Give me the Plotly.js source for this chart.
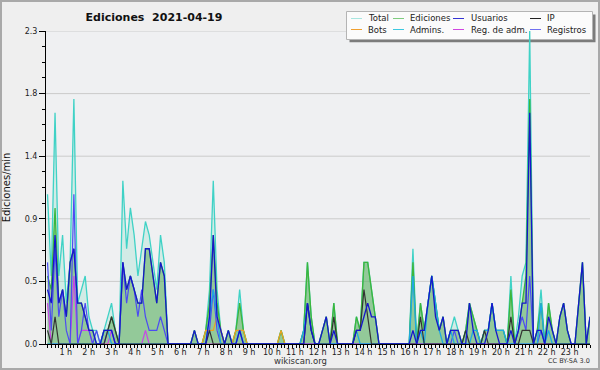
<!DOCTYPE html>
<html>
<head>
<meta charset="utf-8">
<script src="https://cdn.plot.ly/plotly-3.0.1.min.js"></script>
<style>
html,body{margin:0;padding:0;background:#efefef;}
#chart{width:600px;height:370px;}
</style>
</head>
<body>
<div id="chart"></div>
<script>
// ---- data: 10-minute slots of 2021-04-19, values in edits/min ----
const slots = Array.from({length:145}, (_, i) => i);   // slot index (0 = 00:00, 144 = 24:00)

const total = [
 1.1,0.5,1.7,0.5,0.8,0.3,0.6,1.8,0.3,0.4,0.5,0.2,
 0.1,0.1,0,0.1,0.2,0.3,0.1,0,1.2,0.7,1.0,0.8,
 0.5,0.7,0.9,0.8,0.6,0.4,0.8,0.6,0,0,0,0,
 0,0,0,0.1,0,0,0.1,0.4,1.2,0.4,0.1,0,
 0.1,0,0.1,0.4,0.1,0,0,0,0,0,0,0,
 0,0,0.1,0,0,0,0,0,0.1,0.6,0.2,0,
 0,0.1,0.2,0,0.3,0,0,0,0,0,0.2,0.1,
 0.6,0.6,0.4,0.2,0,0,0,0,0,0,0,0,
 0,0.7,0,0.3,0.1,0.3,0.5,0.3,0.1,0.2,0,0.1,
 0.2,0.1,0,0.1,0.3,0.2,0.1,0,0.1,0.1,0.3,0.1,
 0.1,0.1,0,0.5,0,0.2,0.5,0.6,2.3,0,0.1,0.4,
 0,0.3,0.1,0,0.2,0.3,0.1,0,0,0.3,0.6,0,
 0.2];

const ediciones = [
 0.5,0.4,1.0,0.3,0.4,0.2,0.6,0.7,0.3,0.3,0.2,0.1,
 0.1,0,0,0.1,0.1,0.2,0.1,0,0.6,0.4,0.5,0.4,
 0.3,0.3,0.7,0.7,0.5,0.3,0.6,0.5,0,0,0,0,
 0,0,0,0.1,0,0,0.1,0.3,0.8,0.3,0.1,0,
 0.1,0,0.1,0.3,0.1,0,0,0,0,0,0,0,
 0,0,0.1,0,0,0,0,0,0.1,0.6,0.2,0,
 0,0.1,0.2,0,0.3,0,0,0,0,0,0.2,0.1,
 0.6,0.6,0.4,0.2,0,0,0,0,0,0,0,0,
 0,0.6,0,0.3,0.1,0.3,0.5,0.3,0.1,0.2,0,0.1,
 0.1,0.1,0,0.1,0.3,0.2,0.1,0,0.1,0.1,0.3,0.1,
 0.1,0.1,0,0.4,0,0.1,0.3,0.5,1.8,0,0.1,0.3,
 0,0.3,0.1,0,0.2,0.3,0.1,0,0,0.3,0.6,0,
 0.2];

const usuarios = [
 0.4,0.3,0.8,0.3,0.4,0.2,0.6,0.7,0.3,0.3,0.2,0.1,
 0.1,0,0,0.1,0.1,0.1,0,0,0.6,0.4,0.5,0.4,
 0.3,0.3,0.7,0.7,0.5,0.3,0.6,0.5,0,0,0,0,
 0,0,0,0.1,0,0,0,0.2,0.8,0.2,0.1,0,
 0.1,0,0,0.1,0,0,0,0,0,0,0,0,
 0,0,0,0,0,0,0,0,0,0.3,0.1,0,
 0,0.1,0.2,0,0.1,0,0,0,0,0,0.1,0.1,
 0.2,0.3,0.2,0.2,0,0,0,0,0,0,0,0,
 0,0.1,0,0.1,0.1,0.3,0.5,0.2,0.1,0.2,0,0.1,
 0.1,0.1,0,0,0.3,0.1,0,0,0,0.1,0.3,0.1,
 0,0,0,0.1,0,0.1,0.3,0.3,1.7,0,0.1,0.1,
 0,0.2,0.1,0,0.2,0.3,0.1,0,0,0.3,0.6,0,
 0.2];

const ip = [
 0.1,0,0.2,0,0,0,0,0,0,0,0,0,
 0,0,0,0,0.1,0.2,0.1,0,0,0,0,0,
 0,0,0,0,0,0,0,0,0,0,0,0,
 0,0,0,0,0,0,0,0.1,0,0,0,0,
 0,0,0,0,0,0,0,0,0,0,0,0,
 0,0,0,0,0,0,0,0,0,0.3,0.1,0,
 0,0,0,0,0.2,0,0,0,0,0,0.1,0.1,
 0.4,0.2,0,0,0,0,0,0,0,0,0,0,
 0,0,0,0.2,0,0,0,0,0,0,0,0,
 0,0,0,0.1,0,0,0,0,0.1,0,0,0,
 0,0,0,0.2,0,0,0.1,0.1,0.1,0,0,0,
 0,0,0,0,0,0,0,0,0,0,0,0,
 0];

const bots = [
 0,0,0,0,0,0,0,0,0,0,0,0,
 0,0,0,0,0,0,0,0,0,0,0,0,
 0,0,0,0,0,0,0,0,0,0,0,0,
 0,0,0,0,0,0,0.1,0.1,0.1,0.2,0.1,0,
 0,0,0.1,0.1,0.1,0,0,0,0,0,0,0,
 0,0,0.1,0,0,0,0,0,0,0,0,0,
 0,0,0,0,0,0,0,0,0,0,0,0,
 0,0,0,0,0,0,0,0,0,0,0,0,
 0,0,0,0,0,0,0,0,0,0,0,0,
 0,0,0,0,0,0,0,0,0,0,0,0,
 0,0,0,0,0,0,0,0,0,0,0,0,
 0,0,0,0,0,0,0,0,0,0,0,0,
 0];

const admins = [
 0,0,0,0,0,0,0,0,0,0,0,0,
 0,0,0,0.1,0.1,0,0,0,0,0,0,0,
 0,0,0,0,0,0,0,0,0,0,0,0,
 0,0,0,0,0,0,0,0.2,0.4,0.2,0,0,
 0,0,0,0.1,0,0,0,0,0,0,0,0,
 0,0,0,0,0,0,0,0,0.1,0.3,0.1,0,
 0,0,0,0,0,0,0,0,0,0,0.1,0,
 0,0,0,0,0,0,0,0,0,0,0,0,
 0,0.5,0,0.1,0,0.3,0.5,0.3,0.1,0,0,0.1,
 0,0,0,0,0,0.1,0.1,0,0.1,0.1,0.3,0.1,
 0.1,0.1,0,0,0,0,0,0,0,0,0,0.3,
 0,0.1,0,0,0,0,0,0,0,0,0,0,
 0];

const regAdm = [
 0.3,0,0,0,0,0,0,0.5,0,0.1,0.1,0.1,
 0,0,0,0,0,0.1,0,0,0,0,0,0,
 0,0,0.1,0,0,0,0,0,0,0,0,0,
 0,0,0,0,0,0,0,0,0,0,0,0,
 0,0,0,0,0,0,0,0,0,0,0,0,
 0,0,0,0,0,0,0,0,0,0,0,0,
 0,0,0,0,0,0,0,0,0,0,0,0,
 0,0,0,0,0,0,0,0,0,0,0,0,
 0,0,0,0,0,0,0,0,0,0,0,0,
 0,0,0,0,0,0,0,0,0,0,0,0,
 0,0,0,0,0,0,0,0,0,0,0,0,
 0,0,0,0,0,0,0,0,0,0,0,0,
 0];

const registros = [
 0.6,0.1,0.7,0.2,0.4,0.1,0,1.1,0,0.1,0.3,0.1,
 0,0.1,0,0,0.1,0.1,0,0,0.6,0.3,0.5,0.4,
 0.2,0.4,0.2,0.1,0.1,0.1,0.2,0.1,0,0,0,0,
 0,0,0,0,0,0,0,0.1,0.4,0.1,0,0,
 0,0,0,0.1,0,0,0,0,0,0,0,0,
 0,0,0,0,0,0,0,0,0,0,0,0,
 0,0,0,0,0,0,0,0,0,0,0,0,
 0,0,0,0,0,0,0,0,0,0,0,0,
 0,0,0,0,0,0,0,0,0,0,0,0,
 0.1,0,0,0,0,0,0,0,0,0,0,0,
 0,0,0,0,0,0.1,0.2,0.1,0.5,0,0,0.1,
 0,0,0,0,0,0,0,0,0,0,0,0,
 0];

const hours = [1,2,3,4,5,6,7,8,9,10,11,12,13,14,15,16,17,18,19,20,21,22,23];
const hourLabels = hours.map(h => h + ' h');
const yTickVals = [0, 0.46, 0.92, 1.38, 1.84, 2.3];
const yTickText = ['0.0','0.5','0.9','1.4','1.8','2.3'];

const legendNames  = ['Total','Ediciones','Usuarios','IP','Bots','Admins.','Reg. de adm.','Registros'];
const legendColors = ['#a8e6e0','#7fcc7f','#3434d4','#222222','#f0a030','#3cc8e0','#d046e0','#7070f0'];

// ---- geometry helpers (pixel -> paper) ----
const L = 46, R = 590, T = 31, B = 344;
const XMIN = -0.4, XMAX = 144;
const px2x = px => (px - L) / (R - L);
const py2y = py => (B - py) / (B - T);
const px2data = px => XMIN + (px - L) * (XMAX - XMIN) / (R - L);
const hourVals = hours.map(h => px2data(42.9 + 22.9 * h));

const FONT = 'DejaVu Sans, Verdana, sans-serif';

function line(name, y, color, width, fill, fillcolor) {
  const t = {type:'scatter', mode:'lines', x:slots, y:y, name:name,
             line:{color:color, width:width, shape:'linear'}, hoverinfo:'skip'};
  if (fill) { t.fill = 'tozeroy'; t.fillcolor = fillcolor; }
  return t;
}

const traces = [
  line('Total', total, '#3fd2c6', 1.3, true, 'rgba(150,225,205,0.32)'),
  line('Ediciones', ediciones, '#3cb63c', 1.3, true, 'rgba(70,160,60,0.45)'),
  line('Bots', bots, '#f0a020', 1.2),
  line('Reg. de adm.', regAdm, '#c846e6', 1.2),
  line('Registros', registros, '#4c4cf2', 1.2),
  line('Admins.', admins, '#1ea8e2', 1.3),
  line('IP', ip, '#333333', 1.2),
  line('Usuarios', usuarios, '#1616cc', 1.3)
];

const shapes = [];
// horizontal grid lines (below data)
yTickVals.slice(1).forEach(v => shapes.push({type:'line', xref:'paper', yref:'y', x0:0, x1:1, y0:v, y1:v,
  line:{color:'#cbcbcb', width:1}, layer:'below'}));
// legend shadow + box
shapes.push({type:'rect', xref:'paper', yref:'paper', x0:px2x(349.5), x1:px2x(595.5), y0:py2y(42.3), y1:py2y(14.5),
  fillcolor:'#7c7c7c', line:{width:0}, layer:'below'});
shapes.push({type:'rect', xref:'paper', yref:'paper', x0:px2x(346.5), x1:px2x(592.5), y0:py2y(39.5), y1:py2y(11.5),
  fillcolor:'#fbfbfb', line:{color:'#b4b4b4', width:1}, layer:'below'});
// outer border
shapes.push({type:'rect', xref:'paper', yref:'paper', x0:px2x(1), x1:px2x(599), y0:py2y(369), y1:py2y(1),
  line:{color:'#a9a9a9', width:2}, layer:'below'});

const annotations = [];
const colSwatch = [351, 393, 453, 530];
const colText = [366, 408, 469, 545];
const rowY = [18.5, 29.5];
legendNames.forEach((n, k) => {
  const c = k % 4, r = Math.floor(k / 4);
  shapes.push({type:'line', xref:'paper', yref:'paper', x0:px2x(colSwatch[c]), x1:px2x(colSwatch[c] + 11),
    y0:py2y(rowY[r]), y1:py2y(rowY[r]), line:{color:legendColors[k], width:1}, layer:'below'});
  annotations.push({xref:'paper', yref:'paper', x:px2x(colText[c]), y:py2y(rowY[r]), xanchor:'left', yanchor:'middle',
    text:n, showarrow:false, font:{family:FONT, size:8.5, color:'#222'}});
});
annotations.push({xref:'paper', yref:'paper', x:px2x(300), y:py2y(361), xanchor:'center', yanchor:'middle',
  text:'wikiscan.org', showarrow:false, font:{family:FONT, size:8.5, color:'#333'}});
annotations.push({xref:'paper', yref:'paper', x:px2x(569), y:py2y(361), xanchor:'center', yanchor:'middle',
  text:'CC BY-SA 3.0', showarrow:false, font:{family:FONT, size:6.5, color:'#333'}});

const layout = {
  width:600, height:370,
  margin:{l:L, r:600 - R, t:T, b:370 - B, pad:0},
  paper_bgcolor:'#efefef', plot_bgcolor:'#eff0f2',
  showlegend:false,
  font:{family:FONT, size:8, color:'#222'},
  title:{text:'Ediciones\u00a0 2021-04-19', xref:'container', yref:'container',
    x:154/600, xanchor:'center', y:1 - 17/370, yanchor:'middle',
    font:{family:FONT, size:11, color:'#111', weight:'bold'}},
  xaxis:{range:[XMIN, XMAX], showgrid:false, zeroline:false, showline:true, linecolor:'#000', linewidth:1,
    tickmode:'array', tickvals:hourVals, ticktext:hourLabels, ticks:'', ticklen:0,
    tickfont:{family:FONT, size:8, color:'#222'},
    minor:{tick0:0, dtick:1, ticks:'outside', ticklen:3, tickcolor:'#000', tickwidth:1, showgrid:false},
    fixedrange:true},
  yaxis:{range:[0, 2.3], showgrid:false, zeroline:false, showline:true, linecolor:'#000', linewidth:1,
    tickmode:'array', tickvals:yTickVals, ticktext:yTickText, ticks:'outside', ticklen:6, tickcolor:'#000',
    tickfont:{family:FONT, size:8, color:'#222'},
    minor:{tick0:0, dtick:0.115, ticks:'outside', ticklen:3, tickcolor:'#000', tickwidth:1, showgrid:false},
    title:{text:'Ediciones/min', font:{family:FONT, size:10, color:'#111'}, standoff:12},
    fixedrange:true},
  shapes:shapes,
  annotations:annotations
};

Plotly.newPlot('chart', traces, layout, {staticPlot:true, displayModeBar:false});
</script>
</body>
</html>
